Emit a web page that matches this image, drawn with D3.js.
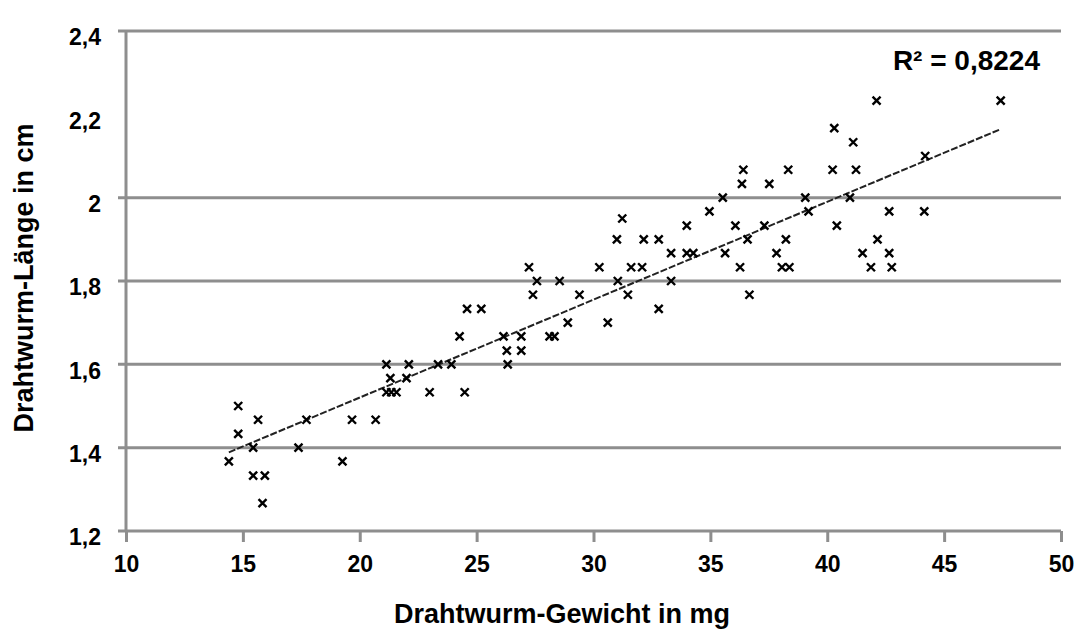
<!DOCTYPE html>
<html>
<head>
<meta charset="utf-8">
<script src="https://cdn.jsdelivr.net/npm/d3@7"></script>
<style>
  html, body { margin: 0; padding: 0; background: #fff; }
  svg { display: block; font-family: "Liberation Sans", Arial, sans-serif; }
</style>
</head>
<body>
<svg id="chart" width="1077" height="632"></svg>
<script>
// Wireworm weight (mg) versus wireworm length (cm)
const weightMg = [
  21.14, 22.10, 21.31, 22.00, 21.14, 21.35, 21.57, 14.80, 15.65, 17.72,
  19.67, 20.68, 14.80, 15.44, 17.38, 14.40, 19.26, 15.44, 15.94, 15.84,
  27.24, 27.58, 28.55, 27.41, 30.25, 31.61, 32.08, 29.40, 31.04, 31.47,
  33.32, 33.32, 32.79, 24.59, 25.20, 28.90, 30.61, 24.27, 26.15, 26.91,
  28.12, 28.33, 26.29, 26.91, 26.33, 23.35, 23.92, 22.99, 24.49,
  36.41, 38.33, 40.23, 41.23, 36.35, 37.52, 35.53, 39.06, 40.97, 34.96,
  39.20, 42.65, 31.23, 33.99, 36.07, 37.31, 40.41, 31.00, 32.15, 32.79,
  36.59, 38.23, 42.15, 33.99, 34.27, 35.63, 37.83, 41.51, 42.65, 36.27,
  38.06, 38.38, 41.87, 42.76, 36.67,
  42.11, 47.42, 40.30, 41.11, 44.19, 44.15
];
const lengthCm = [
  1.600, 1.600, 1.567, 1.567, 1.533, 1.533, 1.533, 1.500, 1.467, 1.467,
  1.467, 1.467, 1.433, 1.400, 1.400, 1.367, 1.367, 1.333, 1.333, 1.267,
  1.833, 1.800, 1.800, 1.767, 1.833, 1.833, 1.833, 1.767, 1.800, 1.767,
  1.867, 1.800, 1.733, 1.733, 1.733, 1.700, 1.700, 1.667, 1.667, 1.667,
  1.667, 1.667, 1.633, 1.633, 1.600, 1.600, 1.600, 1.533, 1.533,
  2.067, 2.067, 2.067, 2.067, 2.033, 2.033, 2.000, 2.000, 2.000, 1.967,
  1.967, 1.967, 1.950, 1.933, 1.933, 1.933, 1.933, 1.900, 1.900, 1.900,
  1.900, 1.900, 1.900, 1.867, 1.867, 1.867, 1.867, 1.867, 1.867, 1.833,
  1.833, 1.833, 1.833, 1.833, 1.767,
  2.233, 2.233, 2.167, 2.133, 2.100, 1.967
];

const xTicks = [10, 15, 20, 25, 30, 35, 40, 45, 50];
const yTicks = [1.2, 1.4, 1.6, 1.8, 2.0, 2.2, 2.4];
const yGridLines = [1.4, 1.6, 1.8, 2.0, 2.4];
const rSquaredLabel = "R² = 0,8224";
const xTitle = "Drahtwurm-Gewicht in mg";
const yTitle = "Drahtwurm-Länge in cm";

const points = weightMg.map((w, i) => ({ x: w, y: lengthCm[i] }));

const svg = d3.select("#chart");
const plot = { left: 126, right: 1061, top: 31, bottom: 531 };

const x = d3.scaleLinear().domain([10, 50]).range([plot.left, plot.right]);
const y = d3.scaleLinear().domain([1.2, 2.4]).range([plot.bottom, plot.top]);

const gridColor = "#8e8e8e";
const fmt = v => String(+v.toFixed(1)).replace(".", ",");

// horizontal gridlines (they also form the short ticks left of the axis)
svg.append("g")
  .selectAll("line")
  .data(yGridLines)
  .join("line")
  .attr("x1", plot.left - 8)
  .attr("x2", plot.right)
  .attr("y1", d => y(d))
  .attr("y2", d => y(d))
  .attr("stroke", gridColor)
  .attr("stroke-width", 3);

// x axis with downward ticks
const xAxis = svg.append("g")
  .attr("transform", `translate(0,${plot.bottom})`)
  .call(d3.axisBottom(x).tickValues(xTicks).tickSize(11).tickPadding(14).tickSizeOuter(0).tickFormat(d3.format("d")));
xAxis.select(".domain")
  .attr("d", `M${plot.left - 8},0H${plot.right}`)
  .attr("stroke", gridColor).attr("stroke-width", 3);
xAxis.selectAll(".tick line").attr("stroke", gridColor).attr("stroke-width", 3);
xAxis.selectAll(".tick text")
  .attr("fill", "#000")
  .style("font-size", "23px")
  .style("font-weight", "bold")
  .style("font-family", "'Liberation Sans', Arial, sans-serif");

// y axis line
svg.append("line")
  .attr("x1", plot.left).attr("x2", plot.left)
  .attr("y1", plot.top).attr("y2", plot.bottom)
  .attr("stroke", gridColor).attr("stroke-width", 3);

// y tick labels
const yAxis = svg.append("g")
  .attr("transform", `translate(${plot.left},0)`)
  .call(d3.axisLeft(y).tickValues(yTicks).tickSize(0).tickPadding(25).tickFormat(fmt));
yAxis.select(".domain").remove();
yAxis.selectAll(".tick text")
  .attr("fill", "#000")
  .attr("dy", "0.6em")
  .style("font-size", "23px")
  .style("font-weight", "bold")
  .style("font-family", "'Liberation Sans', Arial, sans-serif");

// linear trendline fitted to the data
const n = points.length;
const mx = d3.mean(points, d => d.x);
const my = d3.mean(points, d => d.y);
const sxy = d3.sum(points, d => (d.x - mx) * (d.y - my));
const sxx = d3.sum(points, d => (d.x - mx) * (d.x - mx));
const slope = sxy / sxx;
const intercept = my - slope * mx;
const [xMin, xMax] = d3.extent(points, d => d.x);

svg.append("line")
  .attr("x1", x(xMin)).attr("y1", y(intercept + slope * xMin))
  .attr("x2", x(xMax)).attr("y2", y(intercept + slope * xMax))
  .attr("stroke", "#222")
  .attr("stroke-width", 2)
  .attr("stroke-dasharray", "7,2");

// x-shaped markers
const s = 4;
svg.append("g")
  .selectAll("path")
  .data(points)
  .join("path")
  .attr("transform", d => `translate(${x(d.x)},${y(d.y)})`)
  .attr("d", `M${-s},${-s}L${s},${s}M${-s},${s}L${s},${-s}`)
  .attr("stroke", "#000")
  .attr("stroke-width", 2.4)
  .attr("fill", "none");

// R² annotation
svg.append("text")
  .attr("x", 1040).attr("y", 70)
  .attr("text-anchor", "end")
  .style("font-size", "28px")
  .style("font-weight", "bold")
  .text(rSquaredLabel);

// axis titles
svg.append("text")
  .attr("x", 562).attr("y", 623)
  .attr("text-anchor", "middle")
  .style("font-size", "27px")
  .style("font-weight", "bold")
  .text(xTitle);

svg.append("text")
  .attr("transform", "translate(33,278) rotate(-90)")
  .attr("text-anchor", "middle")
  .style("font-size", "27px")
  .style("font-weight", "bold")
  .text(yTitle);
</script>
</body>
</html>
